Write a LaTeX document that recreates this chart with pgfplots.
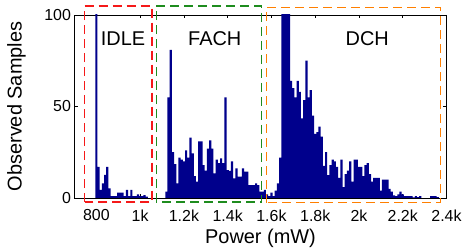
\documentclass[border=0pt]{standalone}
\usepackage{pgfplots}
\pgfplotsset{compat=1.18}
\usepackage{pgfplotstable}
\usepackage{fontspec}
\setmainfont{Liberation Sans}
\definecolor{barblue}{RGB}{0,0,140}
\definecolor{boxred}{RGB}{245,25,25}
\definecolor{boxgreen}{RGB}{30,140,30}
\definecolor{boxorange}{RGB}{255,127,0}

\pgfplotstableread{
x y
800 150
810 17
820 4.5
830 8
840 12.6
850 17
860 5.3
870 1
880 1
890 1
900 3
910 3
920 3
930 1
940 4.4
950 1
960 4.4
970 1
980 1
990 2
1000 1
1010 1
1020 1.6
1030 0.7
1120 3.5
1130 55
1140 81
1150 25
1160 18.5
1170 8
1180 22
1190 21
1200 20
1210 26
1220 22
1230 33
1240 24.4
1250 12
1260 9
1270 31
1280 31
1290 18
1300 15
1310 27
1320 31.5
1330 27
1340 13.5
1350 21
1360 19
1370 21.7
1380 19
1390 55
1400 15.3
1410 14.8
1420 20
1430 10.7
1440 16.2
1450 11.7
1460 11.7
1470 16.2
1480 14.4
1490 14.4
1500 7
1510 7
1520 7
1530 8
1540 7
1550 3.5
1560 3.5
1570 4.4
1580 2
1590 1
1600 3
1610 1
1620 4
1630 8
1640 22
1650 150
1660 150
1670 150
1680 150
1690 64
1700 60
1710 55
1720 64
1730 58
1740 43.5
1750 53.5
1760 75
1770 55
1780 59
1790 45
1800 35
1810 36
1820 39
1830 33.5
1840 17.5
1850 25
1860 12.5
1870 18
1880 21
1890 20
1900 17
1910 11
1920 21
1930 6
1940 13
1950 15
1960 20
1970 9
1980 21
1990 21
2000 17
2010 17
2020 12
2030 18
2040 19
2050 13
2060 9
2070 11
2080 11
2090 11
2100 4
2110 10
2120 10
2130 10
2140 5
2150 3.5
2160 1.5
2170 1
2180 2
2190 3.5
2200 2
2210 1
2220 1
2230 1
2240 1
2250 0.3
2260 1
2270 0.5
2280 1
2330 1
2340 1
2350 1
2360 0.5
}\histdata

\begin{document}
\begin{tikzpicture}
\begin{axis}[
  scale only axis, width=372bp, height=183bp,
  xmin=700, xmax=2400, ymin=0, ymax=100,
  xtick={800,1000,1200,1400,1600,1800,2000,2200,2400},
  xticklabels={800,1k,1.2k,1.4k,1.6k,1.8k,2k,2.2k,2.4k},
  ytick={0,50,100},
  tick align=inside, major tick length=3.5bp,
  axis line style={line width=0.9bp},
  tick style={line width=0.8bp, black},
  /pgf/number format/assume math mode=true,
  ticklabel style={font=\fontsize{16}{18}\selectfont},
  xticklabel style={yshift=-8bp},
  label style={font=\fontsize{20}{24}\selectfont},
  xlabel={Power (mW)}, ylabel={Observed Samples},
  xlabel style={at={(axis description cs:0.5,-0.219)},anchor=center},
  ylabel style={at={(axis description cs:-0.156,0.5)},anchor=center},
]
\addplot[ybar, bar width=10, fill=barblue, draw=none] table[x=x,y=y]{\histdata};
\coordinate (r1) at (axis cs:746,-2.2);
\coordinate (r2) at (axis cs:1054,104.9);
\coordinate (g1) at (axis cs:1074,-2.2);
\coordinate (g2) at (axis cs:1555,104.9);
\coordinate (o1) at (axis cs:1578,-2.5);
\coordinate (o2) at (axis cs:2372,104.2);
\node[font=\fontsize{20}{24}\selectfont] at (axis cs:922,87) {IDLE};
\node[font=\fontsize{20}{24}\selectfont] at (axis cs:1341,87) {FACH};
\node[font=\fontsize{20}{24}\selectfont] at (axis cs:2038,87) {DCH};
\end{axis}
\draw[boxred, line width=1.5bp, dash pattern=on 9bp off 5bp] (r1) rectangle (r2);
\draw[boxgreen, line width=1.5bp, dash pattern=on 9bp off 5bp] (g1) rectangle (g2);
\draw[boxorange, line width=1.5bp, dash pattern=on 9bp off 5bp] (o1) rectangle (o2);
\pgfresetboundingbox
\useasboundingbox (current axis.south west) ++(-74.5bp,-50bp) rectangle ++(469bp,248bp);
\end{tikzpicture}
\end{document}
